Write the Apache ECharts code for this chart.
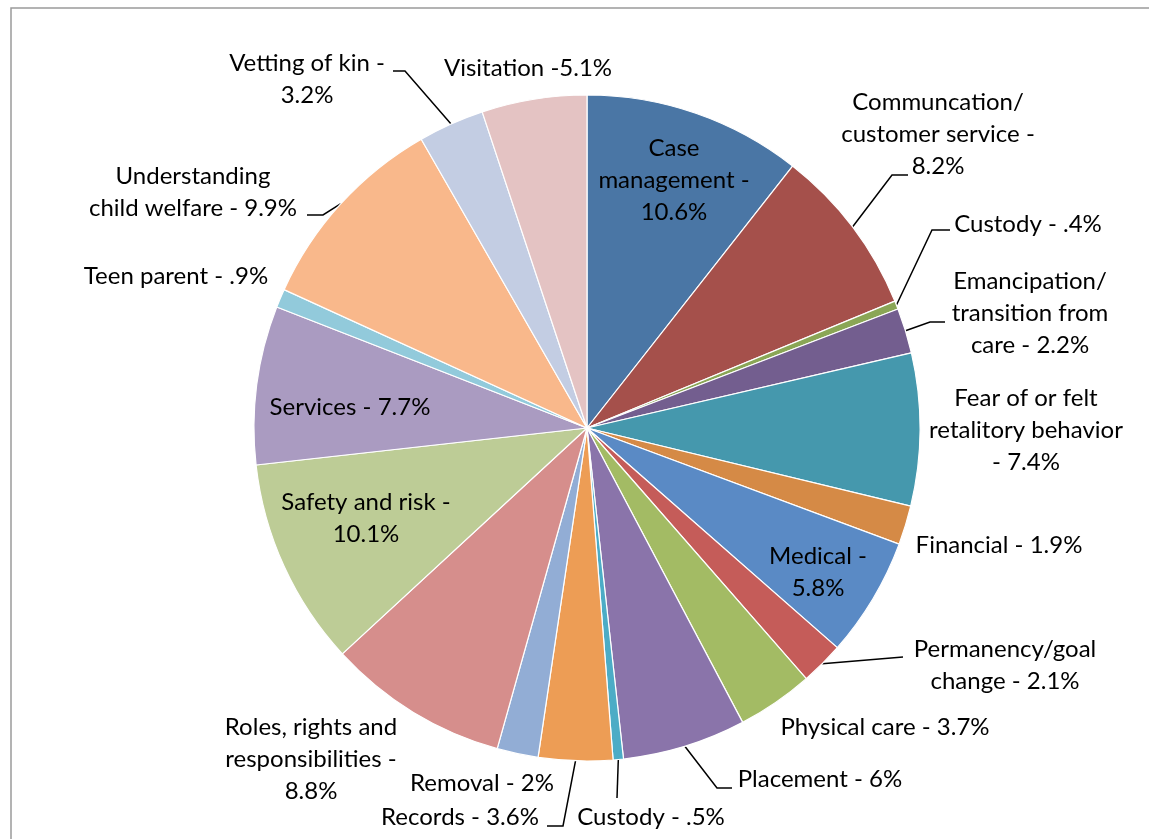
<!DOCTYPE html>
<html>
<head>
<meta charset="utf-8">
<script src="https://cdn.jsdelivr.net/npm/echarts@6/dist/echarts.min.js"></script>
<style>
  html, body { margin: 0; padding: 0; background: #ffffff; }
  #chart { width: 1149px; height: 839px; }
</style>
</head>
<body>
<div id="chart"></div>
<script>
// ---- data ----
const categories = [
  'Case management', 'Communcation/customer service', 'Custody', 'Emancipation/transition from care',
  'Fear of or felt retalitory behavior', 'Financial', 'Medical', 'Permanency/goal change',
  'Physical care', 'Placement', 'Custody', 'Records', 'Removal',
  'Roles, rights and responsibilities', 'Safety and risk', 'Services', 'Teen parent',
  'Understanding child welfare', 'Vetting of kin', 'Visitation'
];
const values = [10.6, 8.2, 0.4, 2.2, 7.4, 1.9, 5.8, 2.1, 3.7, 6, 0.5, 3.6, 2, 8.8, 10.1, 7.7, 0.9, 9.9, 3.2, 5.1];
const labelTexts = [
  'Case\nmanagement -\n10.6%',
  'Communcation/\ncustomer service -\n8.2%',
  'Custody - .4%',
  'Emancipation/\ntransition from\ncare - 2.2%',
  'Fear of or felt\nretalitory behavior\n- 7.4%',
  'Financial - 1.9%',
  'Medical -\n5.8%',
  'Permanency/goal\nchange - 2.1%',
  'Physical care - 3.7%',
  'Placement - 6%',
  'Custody - .5%',
  'Records - 3.6%',
  'Removal - 2%',
  'Roles, rights and\nresponsibilities -\n8.8%',
  'Safety and risk -\n10.1%',
  'Services - 7.7%',
  'Teen parent - .9%',
  'Understanding\nchild welfare - 9.9%',
  'Vetting of kin -\n3.2%',
  'Visitation -5.1%'
];

// ---- styles / layout ----
const colors = [
  '#4A76A5', '#A5504B', '#8AA656', '#735E8F', '#4598AD', '#D58A46', '#5A8AC5', '#C55C59',
  '#A3BB64', '#8A74AA', '#4CACC6', '#ED9D55', '#92ADD5', '#D68E8C', '#BDCC96', '#AA9BC1',
  '#92CADB', '#F9B88B', '#C3CDE3', '#E4C3C3'
];
const CX = 587, CY = 428, R = 333;
const labelPlace = [
  { x: 674, y: 180, line: null },
  { x: 938, y: 134, line: [[892, 175], [908, 175]] },
  { x: 1028, y: 224, line: [[932, 230], [950, 230]] },
  { x: 1030, y: 313, line: [[930, 322], [945, 322]] },
  { x: 1026, y: 430, line: null },
  { x: 999, y: 545, line: null },
  { x: 818, y: 572, line: null },
  { x: 1005, y: 665, line: [[903, 657]] },
  { x: 885, y: 727, line: null },
  { x: 820, y: 779, line: [[717, 788], [732, 788]] },
  { x: 651, y: 817, line: [[617, 798]] },
  { x: 460, y: 817, line: [[563, 826], [547, 826]] },
  { x: 482, y: 783, line: null },
  { x: 311, y: 759, line: null },
  { x: 366, y: 518, line: null },
  { x: 350, y: 407, line: null },
  { x: 176, y: 276, line: null },
  { x: 193, y: 192, line: [[323, 215], [307, 215]] },
  { x: 307, y: 79, line: [[405, 71], [393, 71]] },
  { x: 528, y: 68, line: null }
];

const total = values.reduce((a, b) => a + b, 0);
const startPts = [];
(function () {
  let cum = 0;
  values.forEach(v => {
    const a = (cum + v / 2) / total * 2 * Math.PI;
    startPts.push([CX + R * Math.sin(a), CY - R * Math.cos(a)]);
    cum += v;
  });
})();

const chart = echarts.init(document.getElementById('chart'), null, { renderer: 'canvas' });
const FONT = 'Lato';
chart.setOption({
  backgroundColor: '#ffffff',
  animation: false,
  graphic: [{
    type: 'rect',
    shape: { x: 11, y: 8, width: 1200, height: 900 },
    style: { fill: 'none', stroke: '#9a9a9a', lineWidth: 1.5 },
    silent: true
  }],
  series: [{
    type: 'pie',
    center: [CX, CY],
    radius: [0, R],
    startAngle: 90,
    clockwise: true,
    avoidLabelOverlap: false,
    itemStyle: { borderColor: '#ffffff', borderWidth: 1.2 },
    label: {
      show: true,
      position: 'outside',
      fontFamily: FONT,
      fontSize: 24,
      lineHeight: 32,
      color: '#000000',
      align: 'center',
      formatter: p => labelTexts[p.dataIndex]
    },
    labelLine: { show: true, lineStyle: { color: '#000000', width: 1.5 }, smooth: false },
    labelLayout: function (params) {
      const i = params.dataIndex;
      const pl = labelPlace[i];
      const out = { x: pl.x, y: pl.y, align: 'center', verticalAlign: 'middle' };
      if (pl.line) {
        out.labelLinePoints = [startPts[i]].concat(pl.line);
      }
      return out;
    },
    data: values.map((v, i) => ({
      name: categories[i],
      value: v,
      itemStyle: { color: colors[i] },
      label: { position: labelPlace[i].line ? 'outside' : 'inside' },
      labelLine: { show: !!labelPlace[i].line }
    }))
  }]
});
</script>
</body>
</html>
